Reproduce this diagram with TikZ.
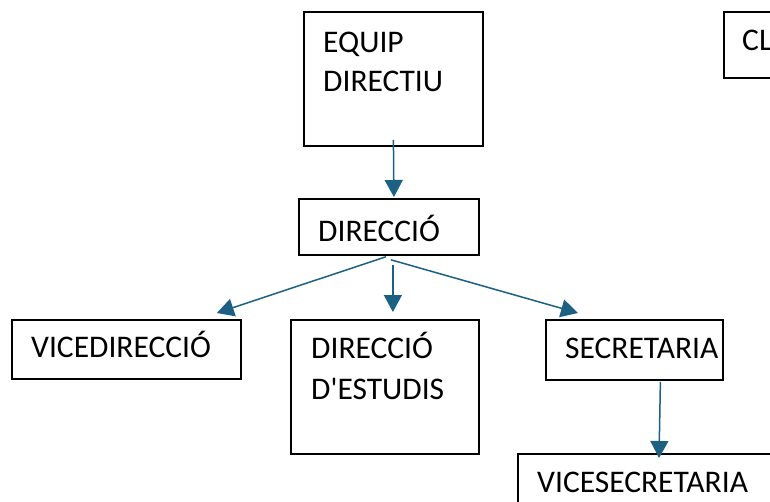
\documentclass[tikz,border=0pt]{standalone}
\usepackage{fontspec}
\setmainfont{Carlito}[Ligatures=TeXOff]
\usetikzlibrary{arrows.meta}
\definecolor{arrowblue}{RGB}{28,96,132}
\begin{document}
\begin{tikzpicture}[x=1pt,y=-1pt,
  box/.style={draw=black, line width=1.8pt, anchor=north west, inner sep=0pt},
  lbl/.style={anchor=base west, inner sep=0pt, font=\fontsize{31.5}{40}\selectfont},
  arr/.style={draw=arrowblue, line width=1.5pt, -{Triangle[length=17pt,width=18pt]}}]
\useasboundingbox (0,0) rectangle (770,501);
\fill[white] (0,0) rectangle (770,501);

\node[box, minimum width=179pt, minimum height=134pt] (equip) at (303,11) {};
\node[lbl] (equipt1) at (323,52) {EQUIP};
\node[lbl] (equipt2) at (323,91) {DIRECTIU};

\node[box, minimum width=80pt, minimum height=66pt] (cl) at (723,11) {};
\node[lbl] (clt) at (742,50) {CL};

\node[box, minimum width=180pt, minimum height=56pt] (direccio) at (298,198) {};
\node[lbl] (direcciot) at (318,241) {DIRECCIÓ};

\node[box, minimum width=229pt, minimum height=59pt] (vicedir) at (11,319) {};
\node[lbl] (vicedirt) at (31,357) {VICEDIRECCIÓ};

\node[box, minimum width=188pt, minimum height=134pt] (destudis) at (290,319) {};
\node[lbl] (destudist1) at (311,358) {DIRECCIÓ};
\node[lbl] (destudist2) at (311,399) {D'ESTUDIS};

\node[box, minimum width=177pt, minimum height=60pt] (secret) at (545,319) {};
\node[lbl] (secrett) at (565,358) {SECRETARIA};

\node[box, minimum width=280pt, minimum height=80pt] (vicesec) at (517,453) {};
\node[lbl] (vicesect) at (537,492) {VICESECRETARIA};

\draw[arr] ([yshift=7pt]equip.south) -- ([xshift=5pt,yshift=1pt]direccio.north);
\draw[arr] ([xshift=-3pt,yshift=-1pt]direccio.south) -- ([xshift=-25pt,yshift=6pt]vicedir.north east);
\draw[arr] ([xshift=4pt,yshift=-9pt]direccio.south) -- ([xshift=8pt,yshift=7pt]destudis.north);
\draw[arr] ([xshift=2pt,yshift=-4pt]direccio.south) -- ([xshift=33pt,yshift=6pt]secret.north west);
\draw[arr] ([xshift=26pt,yshift=-1pt]secret.south) -- ([xshift=142pt,yshift=-5pt]vicesec.north west);
\end{tikzpicture}
\end{document}
